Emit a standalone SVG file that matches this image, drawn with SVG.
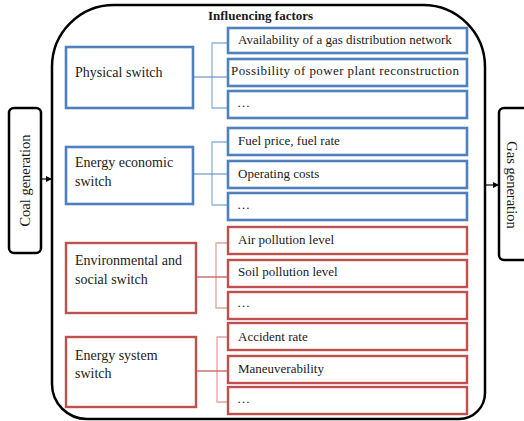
<svg xmlns="http://www.w3.org/2000/svg" width="524" height="421" viewBox="0 0 524 421">
  <defs>
    <marker id="arrow" viewBox="0 0 10 10" refX="10" refY="5" markerWidth="6" markerHeight="6" markerUnits="userSpaceOnUse" orient="auto">
      <path d="M0,0 L10,5 L0,10 Z" fill="#000"/>
    </marker>
    <style>
      text { font-family: "Liberation Serif", "Times New Roman", serif; fill: #1a1a1a; }
      .title { font-size: 13px; font-weight: bold; }
      .sw { font-size: 14px; }
      .f { font-size: 13px; }
      .side { font-size: 14.5px; }
      .outer { fill: none; stroke: #000; stroke-width: 2.5; }
      .gen { fill: #fff; stroke: #000; stroke-width: 2.5; }
      .blue { fill: #fff; stroke: #4f81bd; stroke-width: 2.6; }
      .red { fill: #fff; stroke: #c0504d; stroke-width: 2.4; }
      .cb { fill: none; stroke: #8db3e2; stroke-width: 1.3; }
      .cbm { fill: none; stroke: #4f81bd; stroke-width: 1.2; }
      .cr { fill: none; stroke: #e6a3a2; stroke-width: 1.3; }
      .crm { fill: none; stroke: #c0504d; stroke-width: 1.2; }
      .arr { stroke: #000; stroke-width: 1.2; marker-end: url(#arrow); }
    </style>
  </defs>

  <!-- frame of influencing factors -->
  <g id="frame">
    <path class="outer" d="M52,67 A62,62 0 0 1 114,5 L423,5 A62,62 0 0 1 485,67 L485,393 A26,26 0 0 1 459,419 L87,419 A35,35 0 0 1 52,384 Z"/>
    <text class="title" x="208" y="20">Influencing factors</text>
  </g>

  <!-- side nodes -->
  <g id="coal">
    <rect class="gen" x="9" y="108" width="32" height="145" rx="5"/>
    <text class="side" transform="translate(30,180.5) rotate(-90)" text-anchor="middle">Coal generation</text>
  </g>
  <g id="gas">
    <rect class="gen" x="499" y="108" width="40" height="152" rx="5"/>
    <text class="side" transform="translate(507,185) rotate(90)" text-anchor="middle">Gas generation</text>
  </g>

  <!-- connectors -->
  <g id="connectors">
    <line class="arr" x1="41" y1="179" x2="52" y2="179"/>
    <line class="arr" x1="485" y1="185" x2="499" y2="185"/>

    <path class="cb" d="M228,43 H212 V108 H228"/>
    <path class="cbm" d="M193,77 H228"/>

    <path class="cb" d="M228,142 H212 V205 H228"/>
    <path class="cbm" d="M193,174 H228"/>

    <path class="cr" d="M228,243 H216 V308 H228"/>
    <path class="crm" d="M196,277 H228"/>

    <path class="cr" d="M228,337 H217 V402 H228"/>
    <path class="crm" d="M196,371 H228"/>
  </g>

  <!-- switches -->
  <g id="physical">
    <rect class="blue" x="66" y="47" width="127" height="61"/>
    <text class="sw" x="75" y="77">Physical switch</text>
  </g>
  <g id="economic">
    <rect class="blue" x="66" y="147" width="127" height="57"/>
    <text class="sw" x="75" y="167">Energy economic</text>
    <text class="sw" x="75" y="186">switch</text>
  </g>
  <g id="environmental">
    <rect class="red" x="66" y="243" width="130" height="70"/>
    <text class="sw" x="75" y="265">Environmental and</text>
    <text class="sw" x="75" y="284">social switch</text>
  </g>
  <g id="system">
    <rect class="red" x="66" y="337" width="130" height="70"/>
    <text class="sw" x="75" y="360">Energy system</text>
    <text class="sw" x="75" y="378">switch</text>
  </g>

  <!-- factors -->
  <g id="f-gas-network">
    <rect class="blue" x="228" y="28" width="239" height="25"/>
    <text class="f" x="238" y="44">Availability of a gas distribution network</text>
  </g>
  <g id="f-reconstruction">
    <rect class="blue" x="228" y="59" width="239" height="27"/>
    <text class="f" x="231" y="75" textLength="228" lengthAdjust="spacing">Possibility of power plant reconstruction</text>
  </g>
  <g id="f-physical-more">
    <rect class="blue" x="228" y="91" width="239" height="27"/>
    <text class="f" x="237" y="107">…</text>
  </g>
  <g id="f-fuel">
    <rect class="blue" x="228" y="128" width="239" height="27"/>
    <text class="f" x="238" y="145">Fuel price, fuel rate</text>
  </g>
  <g id="f-operating">
    <rect class="blue" x="228" y="161" width="239" height="27"/>
    <text class="f" x="238" y="178">Operating costs</text>
  </g>
  <g id="f-economic-more">
    <rect class="blue" x="228" y="193" width="239" height="27"/>
    <text class="f" x="237" y="209">…</text>
  </g>
  <g id="f-air">
    <rect class="red" x="228" y="227" width="239" height="27"/>
    <text class="f" x="238" y="244">Air pollution level</text>
  </g>
  <g id="f-soil">
    <rect class="red" x="228" y="260" width="239" height="27"/>
    <text class="f" x="238" y="276">Soil pollution level</text>
  </g>
  <g id="f-environment-more">
    <rect class="red" x="228" y="292" width="239" height="27"/>
    <text class="f" x="237" y="307">…</text>
  </g>
  <g id="f-accident">
    <rect class="red" x="228" y="323" width="239" height="27"/>
    <text class="f" x="238" y="341">Accident rate</text>
  </g>
  <g id="f-maneuverability">
    <rect class="red" x="228" y="356" width="239" height="27"/>
    <text class="f" x="238" y="373">Maneuverability</text>
  </g>
  <g id="f-system-more">
    <rect class="red" x="228" y="387" width="239" height="27"/>
    <text class="f" x="237" y="403">…</text>
  </g>
</svg>
